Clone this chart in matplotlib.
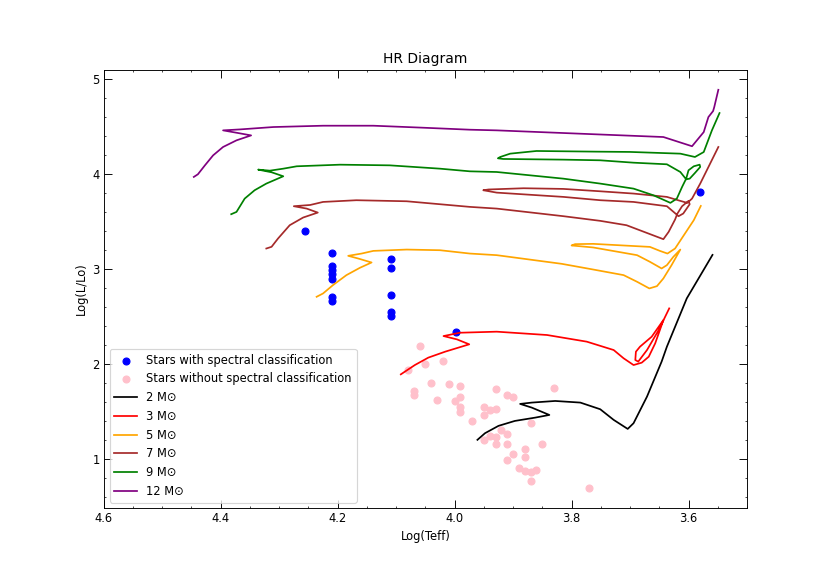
import matplotlib
matplotlib.use("Agg")
import matplotlib.pyplot as plt

# stars (log Teff, log L/Lo)
spec_teff = [4.255, 4.209, 4.209, 4.209, 4.209, 4.209, 4.209, 4.209,
             4.108, 4.108, 4.108, 4.108, 4.108, 3.998, 3.580]
spec_lum = [3.396, 3.165, 3.028, 2.993, 2.941, 2.888, 2.703, 2.664,
            3.105, 3.011, 2.724, 2.549, 2.503, 2.332, 3.806]

nospec_teff = [4.060, 4.080, 4.050, 4.020, 4.040, 4.010, 3.990, 4.070, 4.070,
               4.030, 4.000, 3.990, 3.990, 3.990, 3.970, 3.950, 3.950, 3.940,
               3.930, 3.930, 3.910, 3.900, 3.870, 3.830, 3.950, 3.940, 3.930,
               3.920, 3.910, 3.930, 3.910, 3.900, 3.910, 3.880, 3.880, 3.850,
               3.890, 3.880, 3.870, 3.860, 3.870, 3.770]
nospec_lum = [2.19, 1.94, 2.00, 2.03, 1.80, 1.79, 1.77, 1.71, 1.67,
              1.62, 1.61, 1.65, 1.55, 1.49, 1.40, 1.55, 1.46, 1.52,
              1.53, 1.74, 1.67, 1.65, 1.38, 1.75, 1.20, 1.24, 1.23,
              1.30, 1.26, 1.16, 1.16, 1.05, 0.99, 1.10, 1.02, 1.16,
              0.90, 0.87, 0.86, 0.88, 0.77, 0.69]

# evolutionary tracks
m2_teff = [3.961, 3.948, 3.925, 3.897, 3.862, 3.838, 3.868, 3.888, 3.868, 3.828,
           3.785, 3.751, 3.728, 3.704, 3.694, 3.671, 3.646, 3.637, 3.603, 3.559]
m2_lum = [1.201, 1.271, 1.348, 1.400, 1.435, 1.463, 1.540, 1.579, 1.593, 1.610,
          1.593, 1.523, 1.411, 1.316, 1.376, 1.656, 2.024, 2.181, 2.689, 3.147]

m3_teff = [4.092, 4.068, 4.045, 4.016, 3.975, 3.996, 4.019, 3.991, 3.928, 3.842,
           3.774, 3.728, 3.711, 3.694, 3.680, 3.668, 3.657, 3.643, 3.663, 3.683,
           3.690, 3.691, 3.686, 3.671, 3.651, 3.633]
m3_lum = [1.890, 1.988, 2.066, 2.129, 2.206, 2.258, 2.293, 2.328, 2.339, 2.304,
          2.234, 2.146, 2.059, 1.988, 2.013, 2.076, 2.216, 2.461, 2.286, 2.181,
          2.128, 2.041, 2.024, 2.146, 2.356, 2.584]

m5_teff = [4.236, 4.225, 4.208, 4.185, 4.162, 4.142, 4.165, 4.182, 4.159, 4.139,
           4.082, 4.025, 3.974, 3.928, 3.817, 3.763, 3.711, 3.688, 3.667, 3.654,
           3.643, 3.629, 3.614, 3.626, 3.637, 3.646, 3.666, 3.688, 3.763, 3.800,
           3.794, 3.763, 3.666, 3.649, 3.636, 3.623, 3.591, 3.579]
m5_lum = [2.706, 2.741, 2.829, 2.934, 3.011, 3.067, 3.109, 3.137, 3.161, 3.189,
          3.203, 3.196, 3.161, 3.144, 3.053, 2.993, 2.934, 2.864, 2.794, 2.818,
          2.899, 3.039, 3.203, 3.126, 3.039, 3.004, 3.074, 3.144, 3.225, 3.246,
          3.260, 3.263, 3.231, 3.189, 3.161, 3.214, 3.512, 3.662]

m7_teff = [4.322, 4.313, 4.302, 4.282, 4.259, 4.234, 4.253, 4.275, 4.247, 4.225,
           4.168, 4.082, 3.974, 3.928, 3.814, 3.751, 3.706, 3.643, 3.634, 3.623,
           3.619, 3.611, 3.600, 3.598, 3.609, 3.617, 3.637, 3.694, 3.751, 3.814,
           3.928, 3.951, 3.942, 3.882, 3.814, 3.751, 3.694, 3.637, 3.614, 3.602,
           3.594, 3.580, 3.549]
m7_lum = [3.214, 3.232, 3.319, 3.459, 3.540, 3.592, 3.634, 3.659, 3.672, 3.704,
          3.722, 3.711, 3.652, 3.634, 3.554, 3.505, 3.459, 3.312, 3.389, 3.519,
          3.582, 3.659, 3.715, 3.680, 3.582, 3.554, 3.659, 3.704, 3.722, 3.757,
          3.802, 3.827, 3.835, 3.848, 3.841, 3.816, 3.792, 3.757, 3.715, 3.694,
          3.739, 3.897, 4.282]

m9_teff = [4.382, 4.373, 4.359, 4.342, 4.322, 4.293, 4.313, 4.336, 4.316, 4.293,
           4.270, 4.196, 4.111, 4.025, 3.974, 3.928, 3.814, 3.751, 3.694, 3.660,
           3.631, 3.620, 3.611, 3.604, 3.600, 3.591, 3.581, 3.580, 3.589, 3.598,
           3.604, 3.614, 3.637, 3.694, 3.751, 3.814, 3.917, 3.926, 3.922, 3.905,
           3.860, 3.757, 3.700, 3.614, 3.589, 3.574, 3.560, 3.547]
m9_lum = [3.575, 3.599, 3.739, 3.827, 3.897, 3.974, 4.016, 4.044, 4.033, 4.054,
          4.079, 4.096, 4.089, 4.054, 4.026, 4.019, 3.949, 3.897, 3.844, 3.774,
          3.694, 3.739, 3.862, 3.949, 4.037, 4.079, 4.096, 4.072, 4.009, 3.949,
          3.942, 4.019, 4.100, 4.117, 4.142, 4.149, 4.156, 4.163, 4.177, 4.212,
          4.240, 4.233, 4.230, 4.212, 4.177, 4.229, 4.457, 4.639]

m12_teff = [4.446, 4.439, 4.427, 4.413, 4.396, 4.373, 4.348, 4.373, 4.396, 4.367,
            4.310, 4.225, 4.139, 4.054, 3.974, 3.928, 3.814, 3.700, 3.643, 3.594,
            3.574, 3.566, 3.558, 3.556, 3.549]
m12_lum = [3.967, 3.995, 4.089, 4.194, 4.282, 4.352, 4.404, 4.432, 4.457, 4.467,
           4.492, 4.506, 4.506, 4.485, 4.464, 4.457, 4.429, 4.401, 4.387, 4.290,
           4.439, 4.597, 4.660, 4.702, 4.884]

fig = plt.figure(figsize=(10, 7), dpi=83)
plt.subplots_adjust(left=0.125, right=0.9, bottom=0.125, top=0.88)

plt.scatter(spec_teff, spec_lum, color='blue', label='Stars with spectral classification')
plt.scatter(nospec_teff, nospec_lum, color='pink', label='Stars without spectral classification')

plt.plot(m2_teff, m2_lum, color='black', label='2 M⊙')
plt.plot(m3_teff, m3_lum, color='red', label='3 M⊙')
plt.plot(m5_teff, m5_lum, color='orange', label='5 M⊙')
plt.plot(m7_teff, m7_lum, color='brown', label='7 M⊙')
plt.plot(m9_teff, m9_lum, color='green', label='9 M⊙')
plt.plot(m12_teff, m12_lum, color='purple', label='12 M⊙')

plt.xlim(4.6, 3.5)
plt.ylim(0.48, 5.095)
plt.minorticks_on()
plt.tick_params(which='both', direction='in', top=True, right=True)
plt.tick_params(which='major', length=7)

plt.title('HR Diagram')
plt.xlabel('Log(Teff)')
plt.ylabel('Log(L/Lo)')
plt.legend(loc='lower left')

plt.savefig('out.png', dpi=83)
